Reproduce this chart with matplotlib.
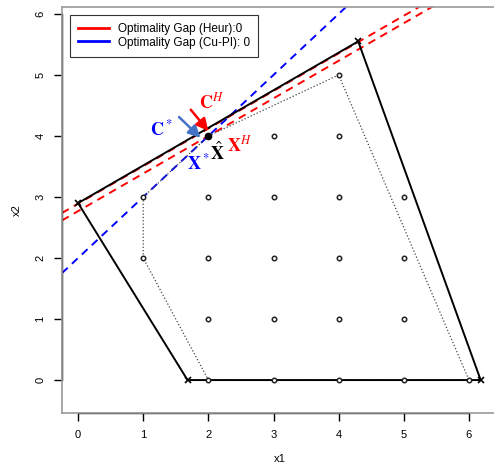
import matplotlib
matplotlib.use("Agg")
import matplotlib.pyplot as plt
import numpy as np

plt.rcParams['font.family'] = ['Liberation Sans', 'DejaVu Sans']
plt.rcParams['mathtext.fontset'] = 'stix'

# LP relaxation polygon (vertices) and integer hull
lp_x = [0, 1.68, 6.18, 4.3, 0]
lp_y = [2.9, 0, 0, 5.55, 2.9]
hull_x = [1, 1, 2, 6, 4, 2, 1]
hull_y = [3, 2, 0, 0, 5, 4, 3]

# feasible integer points
pts_x = [2, 3, 4, 5, 6, 2, 3, 4, 5, 1, 2, 3, 4, 5, 1, 2, 3, 4, 5, 3, 4, 4]
pts_y = [0, 0, 0, 0, 0, 1, 1, 1, 1, 2, 2, 2, 2, 2, 3, 3, 3, 3, 3, 4, 4, 5]
opt_pt = (2, 4)

# objective lines (intercept, slope)
heur_lines = [(2.89, 0.616), (2.768, 0.616)]
cupi_lines = [(2.0, 1.0)]

# arrows: start, end
c_star = ((1.55, 4.31), (1.88, 3.97))
c_heur = ((1.73, 4.43), (2.0, 4.08))

fig = plt.figure(figsize=(4.94, 4.67), dpi=100)
ax = fig.add_axes([0.1255, 0.1156, 0.8805, 0.869])
xlim = (-0.247, 6.43)
ylim = (-0.54, 6.11)

xs = np.array(xlim)
for b, m in heur_lines:
    ax.plot(xs, b + m * xs, color='red', ls=(0, (4, 3)), lw=1.4)
for b, m in cupi_lines:
    ax.plot(xs, b + m * xs, color='blue', ls=(0, (4, 3)), lw=1.4)

ax.plot(hull_x, hull_y, color='#444444', ls=':', lw=0.9)
ax.plot(lp_x, lp_y, color='black', lw=1.4)
ax.plot(lp_x[:-1], lp_y[:-1], 'x', color='black', ms=5, mew=1.2)
ax.plot(pts_x, pts_y, 'o', ms=3.2, mfc='white', mec='#222222', mew=1.1, ls='none')
ax.plot([opt_pt[0]], [opt_pt[1]], 'o', ms=4.5, color='black')

ax.annotate('', xy=c_star[1], xytext=c_star[0],
            arrowprops=dict(arrowstyle='-|>', color='#4472C4', lw=1.8, mutation_scale=18,
                            shrinkA=0, shrinkB=0))
ax.annotate('', xy=c_heur[1], xytext=c_heur[0],
            arrowprops=dict(arrowstyle='-|>', color='red', lw=1.8, mutation_scale=18,
                            shrinkA=0, shrinkB=0))

ax.text(1.28, 4.1, r'$\mathbf{C}^*$', color='blue', fontsize=13, ha='center', va='center')
ax.text(2.05, 4.55, r'$\mathbf{C}^{\mathit{H}}$', color='red', fontsize=13, ha='center', va='center')
ax.text(1.85, 3.55, r'$\mathbf{X}^*$', color='blue', fontsize=13, ha='center', va='center')
ax.text(2.14, 3.73, r'$\hat{\mathbf{X}}$', color='black', fontsize=13, ha='center', va='center')
ax.text(2.47, 3.84, r'$\mathbf{X}^{\mathit{H}}$', color='red', fontsize=13, ha='center', va='center')

ax.plot([], [], color='red', lw=2, label='Optimality Gap (Heur):0')
ax.plot([], [], color='blue', lw=2, label='Optimality Gap (Cu-PI): 0')
leg = ax.legend(loc='upper left', fontsize=8.5, fancybox=False, edgecolor='#333333',
                framealpha=1, handlelength=2.6, borderpad=0.7, labelspacing=0.1,
                bbox_to_anchor=(0.004, 0.995))
leg.get_frame().set_linewidth(0.8)

ax.set_xlim(xlim)
ax.set_ylim(ylim)
ax.set_xticks(range(7))
ax.set_yticks(range(7))
ax.tick_params(labelsize=8, length=6, width=1, pad=6)
for lab in ax.get_yticklabels():
    lab.set_rotation(90)
    lab.set_va('center')
for s in ax.spines.values():
    s.set_color('#999999')
    s.set_linewidth(1.2)
ax.plot([0, 0], [0, 6], color='black', lw=1, transform=ax.get_yaxis_transform(), clip_on=False)
ax.plot([0, 6], [0, 0], color='black', lw=1, transform=ax.get_xaxis_transform(), clip_on=False)
ax.set_xlabel('x1', fontsize=8, labelpad=10)
ax.set_ylabel('x2', fontsize=8, labelpad=10)

fig.savefig('out.png', dpi=100)
